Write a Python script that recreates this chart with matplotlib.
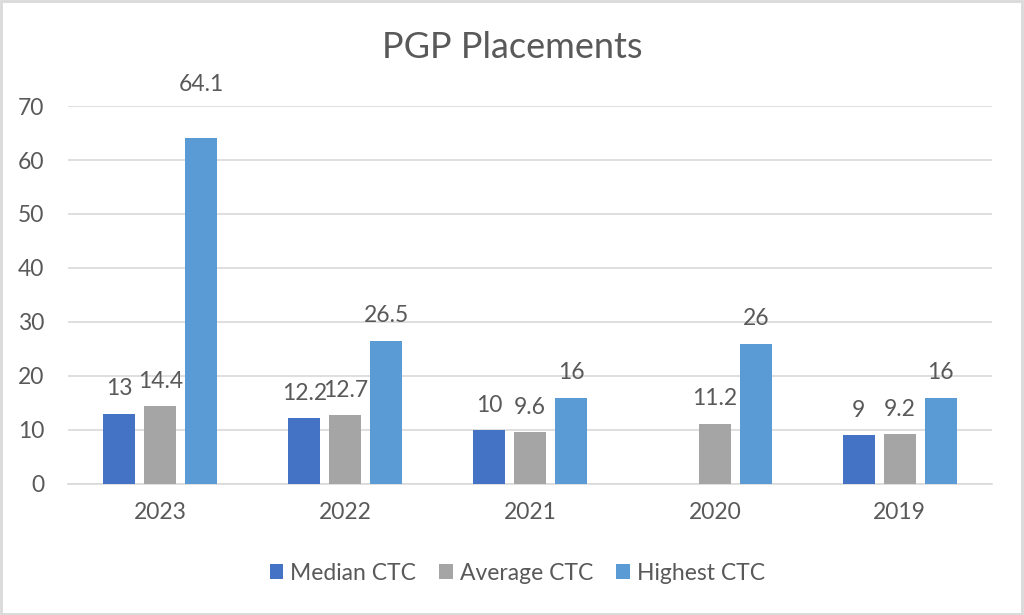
import matplotlib
matplotlib.use("Agg")
import matplotlib.pyplot as plt
import numpy as np
from matplotlib.patches import Rectangle

years = ["2023", "2022", "2021", "2020", "2019"]
median_ctc = [13, 12.2, 10, np.nan, 9]
average_ctc = [14.4, 12.7, 9.6, 11.2, 9.2]
highest_ctc = [64.1, 26.5, 16, 26, 16]
series_names = ["Median CTC", "Average CTC", "Highest CTC"]
y_ticks = [0, 10, 20, 30, 40, 50, 60, 70]

colors = ["#4472C4", "#A5A5A5", "#5B9BD5"]
text_color = "#595959"
plt.rcParams['font.family'] = ['Lato', 'DejaVu Sans']
fs = 16.5

fig = plt.figure(figsize=(10.24, 6.15), dpi=100)
ax = fig.add_axes([68/1024, 1-484/615, (992-68)/1024, (484-106)/615])

x = np.arange(len(years))
width = 0.173
step = 0.222
series = [median_ctc, average_ctc, highest_ctc]
for i, (vals, name, c) in enumerate(zip(series, series_names, colors)):
    pos = x + (i - 1) * step
    ax.bar(pos, vals, width=width, color=c, label=name, zorder=3)
    for p, v in zip(pos, vals):
        if np.isnan(v):
            continue
        label = f"{v:g}"
        off = 25 if v < 50 else 53
        ax.annotate(label, (p, v), xytext=(0, off), textcoords="offset pixels",
                    ha="center", va="center", fontsize=fs, color=text_color)

ax.set_xlim(-0.5, len(years) - 0.5)
ax.set_ylim(0, 70)
ax.set_yticks(y_ticks)
ax.set_xticks(x)
ax.set_xticklabels(years)
ax.tick_params(axis="both", length=0, labelsize=fs, labelcolor=text_color)
ax.tick_params(axis="y", pad=17)
ax.tick_params(axis="x", pad=13)
ax.grid(axis="y", color="#D9D9D9", linewidth=1.2, zorder=0)
for s in ["top", "right", "left"]:
    ax.spines[s].set_visible(False)
ax.spines["bottom"].set_color("#D9D9D9")
ax.spines["bottom"].set_linewidth(1.2)

fig.text(0.5, 1-48/615, "PGP Placements", ha="center", va="center",
         fontsize=26, color=text_color)

leg = fig.legend(loc="center", bbox_to_anchor=(0.505, 1-573/615), ncol=3,
                 frameon=False, fontsize=fs, handlelength=0.6, handleheight=0.6,
                 handletextpad=0.3, columnspacing=1.0)
for t in leg.get_texts():
    t.set_color(text_color)

fig.patches.append(Rectangle((0.001, 0.002), 0.997, 0.996, transform=fig.transFigure,
                             fill=False, edgecolor="#D9D9D9", linewidth=2))

fig.savefig("out.png", dpi=100, facecolor="white")
